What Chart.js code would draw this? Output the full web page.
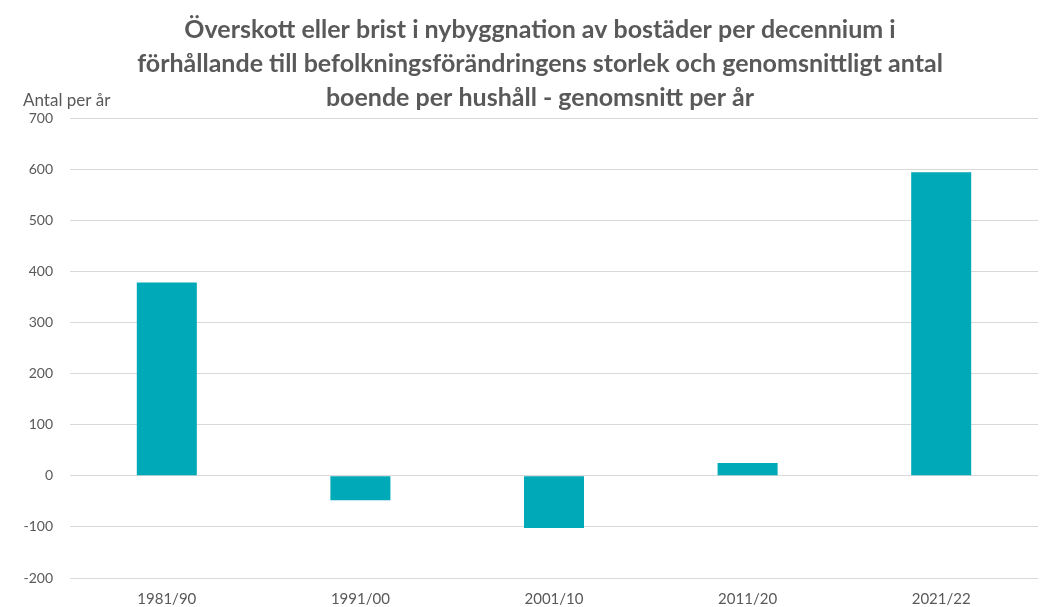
<!DOCTYPE html>
<html>
<head>
<meta charset="utf-8">
<script src="https://cdn.jsdelivr.net/npm/chart.js@4"></script>
<style>
  html, body { margin: 0; padding: 0; background: #ffffff; }
  #wrap { width: 1043px; height: 607px; position: relative; }
</style>
</head>
<body>
<div id="wrap"><canvas id="myChart"></canvas></div>
<script>
'use strict';
// data
let decades = ['1981/90', '1991/00', '2001/10', '2011/20', '2021/22'];
let surplus = [378, -48, -102, 25, 594];
let titleLines = [
  'Överskott eller brist i nybyggnation av bostäder per decennium i',
  'förhållande till befolkningsförändringens storlek och genomsnittligt antal',
  'boende per hushåll - genomsnitt per år'
];
let yUnit = 'Antal per år';
let yMin = -200;
let yMax = 700;
let yStep = 100;

let textGray = '#595959';
let barColor = '#00A9B7';

// title + unit text, drawn by hand so the title can sit off-centre like the original
let headerText = {
  id: 'headerText',
  afterDraw(chart) {
    let ctx = chart.ctx;
    ctx.save();
    ctx.fillStyle = textGray;
    ctx.textBaseline = 'alphabetic';
    ctx.font = 'bold 25px Lato';
    ctx.textAlign = 'center';
    for (let i = 0; i < titleLines.length; i++) {
      ctx.fillText(titleLines[i], 540, 38 + i * 34);
    }
    ctx.font = '17px Lato';
    ctx.textAlign = 'left';
    ctx.fillText(yUnit, 23, 106);
    ctx.restore();
  }
};

let ctx = document.getElementById('myChart');
let myChart = new Chart(ctx, {
  type: 'bar',
  data: {
    labels: decades,
    datasets: [{
      label: yUnit,
      data: surplus,
      backgroundColor: barColor,
      borderWidth: 0,
      barPercentage: 0.31,
      categoryPercentage: 1
    }]
  },
  options: {
    responsive: true,
    maintainAspectRatio: false,
    animation: false,
    layout: {
      padding: { left: 0, right: 5, top: 118, bottom: 0 }
    },
    plugins: {
      legend: { display: false },
      tooltip: { enabled: false },
      title: { display: false }
    },
    scales: {
      x: {
        grid: { display: false, drawTicks: false },
        border: { display: false },
        ticks: {
          color: textGray,
          font: { family: 'Lato', size: 15 },
          padding: 12,
          maxRotation: 0
        },
        afterFit(scale) { scale.height = 29; }
      },
      y: {
        min: yMin,
        max: yMax,
        grid: { color: '#d9d9d9', lineWidth: 1, drawTicks: false },
        border: { display: false },
        ticks: {
          stepSize: yStep,
          color: textGray,
          font: { family: 'Lato', size: 14 },
          padding: 17
        },
        afterFit(scale) { scale.width = 70; }
      }
    }
  },
  plugins: [headerText]
});
</script>
</body>
</html>
